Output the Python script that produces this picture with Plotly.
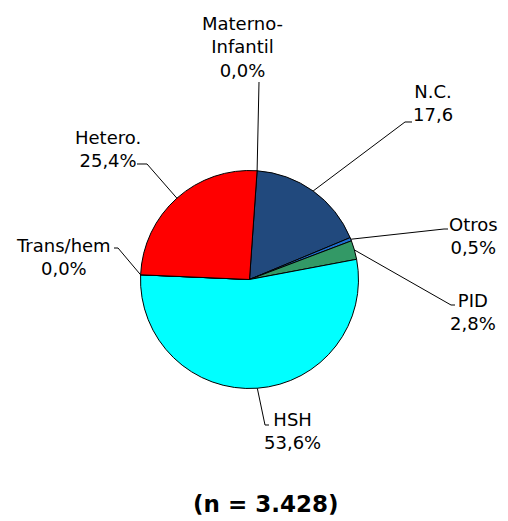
import math
import plotly.graph_objects as go

# ---- data ----
categories = ["Materno-Infantil", "N.C.", "Otros", "PID", "HSH", "Trans/hem", "Hetero."]
values = [0.0, 17.6, 0.5, 2.8, 53.6, 0.0, 25.4]
value_labels = ["0,0%", "17,6", "0,5%", "2,8%", "53,6%", "0,0%", "25,4%"]
label_names = ["Materno-<br>Infantil", "N.C.", "Otros", "PID", "HSH", "Trans/hem", "Hetero."]
total_text = "(n = 3.428)"

# ---- style / layout ----
OFF = 8  # page body margin
W, H = 508 - OFF, 521 - OFF
colors = ["#9999FF", "#21497D", "#1E6FD0", "#339966", "#00FFFF", "#FFFF99", "#FF0000"]
CX, CY, R = 249.5, 279.5, 109.0
ROTATION = 4
# label block centers (screen px) and leader-line elbows (screen px)
label_pos = [(242, 46.5), (433, 103.5), (473, 236), (473, 311.5), (292, 430.5), (63, 256.5), (108, 148.5)]
elbows = [
    [(259, 82)],
    [(405, 122), (412, 122)],
    [(444, 229), (448, 229)],
    [(451, 305), (455, 305)],
    [(265, 425), (269, 425)],
    [(118, 248), (114, 248)],
    [(147, 164), (137, 164)],
]

def px_x(x):
    return (x - OFF) / W

def px_y(y):
    return 1 - (y - OFF) / H

fig = go.Figure(go.Pie(
    labels=categories,
    values=values,
    sort=False,
    direction="clockwise",
    rotation=ROTATION,
    marker=dict(colors=colors, line=dict(color="black", width=1)),
    textinfo="none",
    hoverinfo="label+value",
    showlegend=False,
    domain=dict(x=[px_x(CX - R), px_x(CX + R)], y=[px_y(CY + R), px_y(CY - R)]),
))

total = sum(values)
cum = 0.0
shapes = []
annotations = []
for i, v in enumerate(values):
    mid = ROTATION + (cum + v / 2) * 360 / total
    cum += v
    a = math.radians(mid)
    ex, ey = CX + R * math.sin(a), CY - R * math.cos(a)
    pts = [(ex, ey)] + elbows[i]
    path = "M " + " L ".join(f"{px_x(x):.5f},{px_y(y):.5f}" for x, y in pts)
    shapes.append(dict(type="path", xref="paper", yref="paper", path=path,
                       line=dict(color="black", width=1)))
    lx, ly = label_pos[i]
    annotations.append(dict(
        x=px_x(lx), y=px_y(ly), xref="paper", yref="paper",
        text=f"{label_names[i]}<br>{value_labels[i]}", showarrow=False,
        xanchor="center", yanchor="middle", align="center",
        font=dict(family="DejaVu Sans", size=18, color="black"),
    ))

annotations.append(dict(
    x=px_x(265), y=px_y(504), xref="paper", yref="paper",
    text=f"<b>{total_text}</b>", showarrow=False, xanchor="center", yanchor="middle",
    font=dict(family="DejaVu Sans", size=23, color="black"),
))

fig.update_layout(
    width=W, height=H,
    margin=dict(l=0, r=0, t=0, b=0),
    paper_bgcolor="white", plot_bgcolor="white",
    shapes=shapes, annotations=annotations,
)

fig.write_html("out.html")
